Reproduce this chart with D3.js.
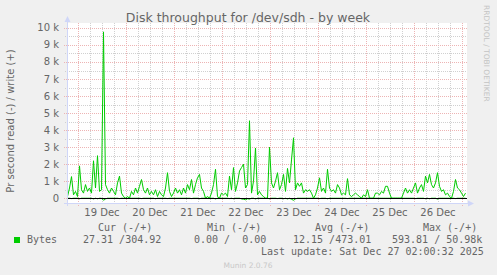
<!DOCTYPE html>
<html>
<head>
<meta charset="utf-8">
<script src="https://cdn.jsdelivr.net/npm/d3@7/dist/d3.min.js"></script>
<style>
body { margin: 0; background: #F0F0F0; }
svg { display: block; }
text { font-family: "DejaVu Sans", sans-serif; fill: #666666; }
.mono { font-family: "DejaVu Sans Mono", monospace; white-space: pre; }
</style>
</head>
<body>
<div id="chart"></div>
<script>
var width = 497;
var height = 275;

// one sample per hour, starting at the left edge of the graph
var startTime = new Date(2025, 11, 18, 18, 30);
var endTime = new Date(2025, 11, 27, 2, 30);

// write bytes / s (plotted positive)
var writes = [
  100, 600, 1270, 200, 400, 100, 1900, 500, 300, 800,
  400, 600, 300, 2200, 600, 2500, 400, 500, 9770, 800,
  500, 300, 600, 400, 200, 900, 1300, 300, 100, 0,
  100, 0, 400, 200, 600, 300, 700, 1100, 500, 300,
  600, 200, 400, 200, 500, 100, 400, 200, 100, 600,
  1500, 400, 100, 300, 600, 300, 500, 200, 600, 300,
  800, 500, 1100, 300, 800, 1200, 1400, 600, 400, 0,
  100, 0, 300, 800, 1700, 100, 0, 300, 200, 300,
  100, 1300, 500, 1800, 400, 900, 1600, 1800, 2000, 600,
  800, 4550, 300, 1000, 2950, 200, 400, 200, 100, 0,
  0, 3000, 900, 600, 1000, 1500, 500, 800, 1400, 400,
  1750, 900, 2250, 3550, 500, 900, 700, 900, 300, 500,
  400, 500, 300, 0, 200, 600, 1200, 400, 600, 300,
  1700, 600, 400, 500, 300, 800, 600, 200, 300, 200,
  1150, 200, 100, 200, 300, 200, 100, 0, 200, 100,
  500, 0, 0, 0, 300, 300, 200, 400, 300, 700,
  700, 300, 0, 0, 0, 0, 0, 0, 300, 600,
  300, 500, 300, 600, 900, 300, 600, 800, 400, 1300,
  900, 1400, 800, 600, 900, 1500, 700, 400, 500, 200,
  300, 100, 0, 400, 1100, 600, 500, 300, 100, 300
];

// read bytes / s (plotted negative)
var reads = [
  0, 0, 20, 0, 0, 0, 30, 0, 0, 0,
  0, 0, 0, 40, 0, 30, 0, 0, 120, 40,
  0, 0, 0, 0, 0, 0, 20, 0, 0, 0,
  0, 0, 0, 0, 0, 0, 0, 20, 0, 0,
  0, 0, 0, 0, 30, 0, 0, 0, 0, 0,
  20, 0, 0, 0, 0, 0, 0, 0, 0, 0,
  0, 0, 20, 0, 0, 0, 30, 0, 0, 0,
  0, 0, 0, 0, 40, 0, 0, 0, 0, 0,
  0, 20, 0, 30, 0, 0, 0, 40, 60, 90,
  30, 50, 0, 0, 40, 0, 0, 0, 0, 0,
  0, 30, 0, 0, 0, 20, 0, 0, 30, 0,
  40, 0, 60, 120, 40, 0, 0, 0, 0, 0,
  0, 0, 0, 0, 0, 0, 20, 0, 0, 0,
  30, 0, 0, 0, 0, 0, 0, 0, 0, 0,
  20, 0, 0, 0, 0, 0, 0, 0, 0, 0,
  0, 0, 0, 0, 0, 0, 0, 0, 0, 0,
  0, 0, 0, 0, 0, 0, 0, 0, 0, 0,
  0, 0, 0, 0, 20, 0, 0, 0, 0, 30,
  0, 30, 0, 0, 0, 50, 0, 0, 0, 0,
  0, 0, 0, 0, 20, 0, 0, 0, 0, 0
];

var yTicks = [0, 1000, 2000, 3000, 4000, 5000, 6000, 7000, 8000, 9000, 10000];
var yTickLabels = ["0", "1 k", "2 k", "3 k", "4 k", "5 k", "6 k", "7 k", "8 k", "9 k", "10 k"];
var xLabelDays = [19, 20, 21, 22, 23, 24, 25, 26];
var xTickLabels = ["19 Dec", "20 Dec", "21 Dec", "22 Dec", "23 Dec", "24 Dec", "25 Dec", "26 Dec"];

var legendHeads = ["Cur (-/+)", "Min (-/+)", "Avg (-/+)", "Max (-/+)"];
var legendValues = ["27.31 /304.92", "0.00 /  0.00", "12.15 /473.01", "593.81 / 50.98k"];
var headX = [98, 207, 315, 423];
var valueX = [83, 194, 293, 392];

var plotLeft = 67, plotRight = 467, plotTop = 23, plotBottom = 203;

var svg = d3.select("#chart").append("svg")
    .attr("width", width)
    .attr("height", height);

svg.append("rect").attr("width", width).attr("height", height).attr("fill", "#F0F0F0");

var x = d3.scaleTime().domain([startTime, endTime]).range([plotLeft, plotRight]);
var y = d3.scaleLinear().domain([-280, 10290]).range([plotBottom, plotTop]);

svg.append("rect")
    .attr("x", plotLeft).attr("y", plotTop)
    .attr("width", plotRight - plotLeft).attr("height", plotBottom - plotTop)
    .attr("fill", "#FFFFFF");

var grid = svg.append("g").attr("shape-rendering", "crispEdges");

// minor grid: every 6 hours / every 500
var minorTimes = d3.timeHour.every(6).range(startTime, endTime);
grid.selectAll(".vmin").data(minorTimes).enter().append("line")
    .attr("x1", function (d) { return Math.round(x(d)) + 0.5; })
    .attr("x2", function (d) { return Math.round(x(d)) + 0.5; })
    .attr("y1", plotTop).attr("y2", plotBottom + 2)
    .attr("stroke", "#D0D0D0").attr("stroke-dasharray", "1,1");

var minorVals = d3.range(500, 10500, 1000);
grid.selectAll(".hmin").data(minorVals).enter().append("line")
    .attr("x1", plotLeft - 2).attr("x2", plotRight)
    .attr("y1", function (d) { return Math.round(y(d)) + 0.5; })
    .attr("y2", function (d) { return Math.round(y(d)) + 0.5; })
    .attr("stroke", "#D0D0D0").attr("stroke-dasharray", "1,1");

// major grid: midnight / every 1 k
var majorTimes = d3.timeDay.range(startTime, endTime);
grid.selectAll(".vmaj").data(majorTimes).enter().append("line")
    .attr("x1", function (d) { return Math.round(x(d)) + 0.5; })
    .attr("x2", function (d) { return Math.round(x(d)) + 0.5; })
    .attr("y1", plotTop).attr("y2", plotBottom + 3)
    .attr("stroke", "#EDB4B4").attr("stroke-dasharray", "1,1");

grid.selectAll(".hmaj").data(yTicks).enter().append("line")
    .attr("x1", plotLeft - 3).attr("x2", plotRight)
    .attr("y1", function (d) { return Math.round(y(d)) + 0.5; })
    .attr("y2", function (d) { return Math.round(y(d)) + 0.5; })
    .attr("stroke", "#EDB4B4").attr("stroke-dasharray", "1,1");

// data lines
var writeData = writes.map(function (v, i) { return { t: d3.timeHour.offset(startTime, i), v: v }; });
var readData = reads.map(function (v, i) { return { t: d3.timeHour.offset(startTime, i), v: -v }; });

var line = d3.line()
    .x(function (d) { return x(d.t) + 0.5; })
    .y(function (d) { return y(d.v); });

svg.append("path").datum(readData)
    .attr("d", line).attr("fill", "none")
    .attr("stroke", "#00CC00").attr("stroke-width", 1);

svg.append("path").datum(writeData)
    .attr("d", line).attr("fill", "none")
    .attr("stroke", "#00CC00").attr("stroke-width", 1);

// zero line
svg.append("line")
    .attr("x1", plotLeft).attr("x2", plotRight)
    .attr("y1", Math.round(y(0)) + 0.5).attr("y2", Math.round(y(0)) + 0.5)
    .attr("stroke", "#000000").attr("stroke-width", 1.2);

// axes
var axisColor = "#CFD6F8";
svg.append("line")
    .attr("x1", plotLeft + 0.5).attr("x2", plotLeft + 0.5)
    .attr("y1", plotBottom + 3).attr("y2", plotTop - 2)
    .attr("stroke", axisColor);
svg.append("path")
    .attr("d", "M" + (plotLeft - 2.5) + "," + (plotTop - 1) + " L" + (plotLeft + 3.5) + "," + (plotTop - 1) + " L" + (plotLeft + 0.5) + "," + (plotTop - 7) + "Z")
    .attr("fill", axisColor);
svg.append("line")
    .attr("x1", plotLeft - 3).attr("x2", plotRight + 2)
    .attr("y1", plotBottom + 0.5).attr("y2", plotBottom + 0.5)
    .attr("stroke", axisColor);
svg.append("path")
    .attr("d", "M" + (plotRight + 1) + "," + (plotBottom - 2.5) + " L" + (plotRight + 1) + "," + (plotBottom + 3.5) + " L" + (plotRight + 7) + "," + (plotBottom + 0.5) + "Z")
    .attr("fill", axisColor);

// tick labels
svg.selectAll(".ylab").data(yTicks).enter().append("text")
    .attr("x", 59)
    .attr("y", function (d) { return y(d) + 3.5; })
    .attr("text-anchor", "end")
    .attr("font-size", "10px")
    .text(function (d, i) { return yTickLabels[i]; });

svg.selectAll(".xlab").data(xLabelDays).enter().append("text")
    .attr("x", function (d) { return x(new Date(2025, 11, d, 12, 0)); })
    .attr("y", 216)
    .attr("text-anchor", "middle")
    .attr("font-size", "10px")
    .text(function (d, i) { return xTickLabels[i]; });

// titles
svg.append("text")
    .attr("x", 248).attr("y", 22)
    .attr("text-anchor", "middle")
    .attr("font-size", "12.5px")
    .text("Disk throughput for /dev/sdh - by week");

svg.append("text")
    .attr("transform", "translate(14,121) rotate(-90)")
    .attr("text-anchor", "middle")
    .attr("font-size", "10px")
    .text("Pr second read (-) / write (+)");

svg.append("text")
    .attr("transform", "translate(484,5) rotate(90)")
    .attr("text-anchor", "start")
    .attr("font-size", "7.5px")
    .style("fill", "#C4C4C4")
    .text("RRDTOOL / TOBI OETIKER");

// legend
var legend = svg.append("g").attr("font-size", "10px");
legend.selectAll(".head").data(legendHeads).enter().append("text")
    .attr("class", "mono")
    .attr("x", function (d, i) { return headX[i]; })
    .attr("y", 231)
    .text(function (d) { return d; });

legend.append("rect")
    .attr("x", 14).attr("y", 237).attr("width", 6).attr("height", 6)
    .attr("fill", "#00CC00");
legend.append("text").attr("class", "mono")
    .attr("x", 27).attr("y", 243).text("Bytes");

legend.selectAll(".val").data(legendValues).enter().append("text")
    .attr("class", "mono")
    .attr("x", function (d, i) { return valueX[i]; })
    .attr("y", 243)
    .text(function (d) { return d; });

legend.append("text").attr("class", "mono")
    .attr("x", 261).attr("y", 255)
    .text("Last update: Sat Dec 27 02:00:32 2025");

svg.append("text")
    .attr("x", 248).attr("y", 268)
    .attr("text-anchor", "middle")
    .attr("font-size", "7.5px")
    .style("fill", "#C8C8C8")
    .text("Munin 2.0.76");
</script>
</body>
</html>
